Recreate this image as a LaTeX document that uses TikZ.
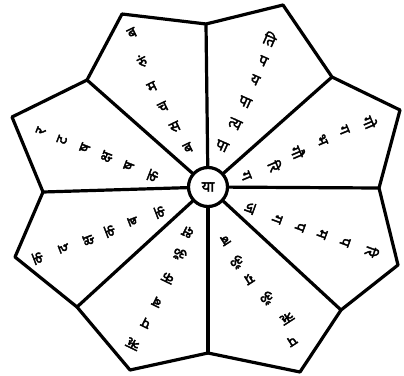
\documentclass[tikz,border=0pt]{standalone}
\usepackage{fontspec}
\newfontfamily\deva[Script=Devanagari, AutoFakeBold=2.2]{Noto Sans}
\tikzset{
  edge/.style={line width=3.2pt, line join=round, line cap=round},
  glyph/.style={font=\deva\bfseries\fontsize{15}{15}\selectfont, inner sep=0pt},
}
\begin{document}
\begin{tikzpicture}[x=1pt,y=-1pt]
\useasboundingbox (0,0) rectangle (404,375);
% outer vertices
\coordinate (s1) at (206,24);
\coordinate (t1) at (283,5);
\coordinate (s2) at (332,77);
\coordinate (t2) at (400,110);
\coordinate (s3) at (379,188);
\coordinate (t3) at (398,265);
\coordinate (s4) at (341,310);
\coordinate (t4) at (300,372);
\coordinate (s5) at (208,353);
\coordinate (t5) at (130,370);
\coordinate (s6) at (77,307);
\coordinate (t6) at (15,257);
\coordinate (s7) at (43,192);
\coordinate (t7) at (12,117);
\coordinate (s8) at (87,80);
\coordinate (t8) at (122,14);
\draw[edge] (s1) -- (t1) -- (s2) -- (t2) -- (s3) -- (t3) -- (s4) -- (t4) -- (s5)
  -- (t5) -- (s6) -- (t6) -- (s7) -- (t7) -- (s8) -- (t8) -- cycle;
\node[circle, draw, line width=3.2pt, minimum size=39pt, inner sep=0pt,
  font=\deva\bfseries\fontsize{15}{15}\selectfont] (c) at (208,187) {या};
\foreach \s in {s1,s2,s3,s4,s5,s6,s7,s8}
  \draw[edge] (c) -- (\s);
% petal texts (inner to outer)
\foreach \t/\x/\y [count=\i] in {पा/222/146, त्य/235/124, पा/245/102, य/255/80, प/263/61, ति/270/39}
  \node[glyph, rotate=-24] (a\i) at (\x,\y) {\t};
\foreach \t/\x/\y [count=\i] in {ग/246/176, रि/275/166, गौ/298/152, भ/322/140, ग/344/130, गो/370/122}
  \node[glyph, rotate=-67] (b\i) at (\x,\y) {\t};
\foreach \t/\x/\y [count=\i] in {ज/250/208, ग/277/219, प/300/227, म/322/234, प/345/242, रि/372/252}
  \node[glyph, rotate=-110] (cc\i) at (\x,\y) {\t};
\foreach \t/\x/\y [count=\i] in {ब/225/240, ॐ/237/262, ग्र/249/279, ॐ/267/298, ऋ/287/318, प/292/341}
  \node[glyph, rotate=-147] (d\i) at (\x,\y) {\t};
\foreach \t/\x/\y [count=\i] in {क्ष/188/232, ॐ/180/254, क/168/278, ब/157/302, प/146/323, ऋ/133/344}
  \node[glyph, rotate=154] (e\i) at (\x,\y) {\t};
\foreach \t/\x/\y [count=\i] in {क/160/212, ब/133/221, क/110/231, क्ष/89/240, द/64/248, क/38/258}
  \node[glyph, rotate=111] (f\i) at (\x,\y) {\t};
\foreach \t/\x/\y [count=\i] in {क/153/176, ष/129/166, क्ष/107/157, ष/85/148, ट/62/140, र/41/131}
  \node[glyph, rotate=69] (g\i) at (\x,\y) {\t};
\foreach \t/\x/\y [count=\i] in {ब/188/148, स/175/127, च/163/107, म/152/87, रुं/142/61, ब/132/33}
  \node[glyph, rotate=26] (h\i) at (\x,\y) {\t};
\end{tikzpicture}
\end{document}
